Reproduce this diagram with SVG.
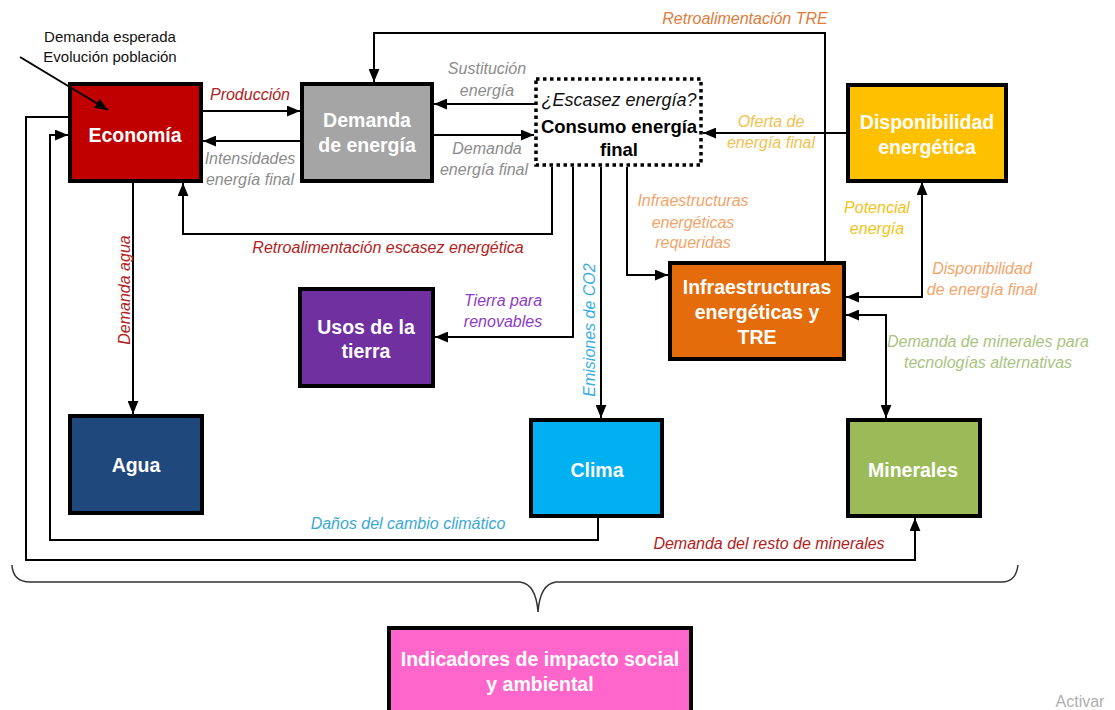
<svg xmlns="http://www.w3.org/2000/svg" width="1115" height="710" viewBox="0 0 1115 710">
<style>
.box{stroke:#000;stroke-width:4}
.bt{font-family:"Liberation Sans",Arial,sans-serif;font-weight:bold;font-size:19.5px;fill:#fff;text-anchor:middle}
.lb{font-family:"Liberation Sans",Arial,sans-serif;font-style:italic;font-size:16px;text-anchor:middle}
.c{fill:none;stroke:#000;stroke-width:2}
</style>
<defs>
<marker id="arr" viewBox="0 0 12 10" refX="12" refY="5" markerWidth="13" markerHeight="11" orient="auto-start-reverse" markerUnits="userSpaceOnUse">
<path d="M0,0 L12,5 L0,10 Z" fill="#000"/>
</marker>
</defs>
<rect width="1115" height="710" fill="#fff"/>

<g id="economia"><rect class="box" x="70" y="84" width="131" height="97" fill="#C00000"/><text class="bt" x="135" y="142">Economía</text></g>
<g id="demanda-energia"><rect class="box" x="302" y="84" width="130" height="97" fill="#A5A5A5"/><text class="bt" x="367" y="127">Demanda</text><text class="bt" x="367" y="152">de energía</text></g>
<g id="consumo"><rect x="536" y="79" width="165" height="86" fill="#fff" stroke="#000" stroke-width="3.5" stroke-dasharray="3.5,3.5"/>
<text x="619" y="106" style="font-family:'Liberation Sans',Arial,sans-serif;font-style:italic;font-size:18px" text-anchor="middle" fill="#111">¿Escasez energía?</text>
<text x="619" y="133" style="font-family:'Liberation Sans',Arial,sans-serif;font-weight:bold;font-size:18.5px" text-anchor="middle" fill="#000">Consumo energía</text>
<text x="619" y="156" style="font-family:'Liberation Sans',Arial,sans-serif;font-weight:bold;font-size:18.5px" text-anchor="middle" fill="#000">final</text></g>
<g id="disponibilidad"><rect class="box" x="848" y="85" width="158" height="96" fill="#FFC000"/><text class="bt" x="927" y="129">Disponibilidad</text><text class="bt" x="927" y="154">energética</text></g>
<g id="infraestructuras"><rect class="box" x="670" y="263" width="174" height="96" fill="#E46C0A"/><text class="bt" x="757" y="294">Infraestructuras</text><text class="bt" x="757" y="319">energéticas y</text><text class="bt" x="757" y="344">TRE</text></g>
<g id="usos-tierra"><rect class="box" x="300" y="289" width="133" height="97" fill="#7030A0"/><text class="bt" x="366" y="334">Usos de la</text><text class="bt" x="366" y="358">tierra</text></g>
<g id="agua"><rect class="box" x="70" y="416" width="132" height="97" fill="#1F497D"/><text class="bt" x="136" y="472">Agua</text></g>
<g id="clima"><rect class="box" x="531" y="420" width="131" height="96" fill="#00B0F0"/><text class="bt" x="597" y="477">Clima</text></g>
<g id="minerales"><rect class="box" x="848" y="420" width="132" height="96" fill="#9BBB59"/><text class="bt" x="913" y="477">Minerales</text></g>
<g id="indicadores"><rect class="box" x="389" y="628" width="302" height="90" fill="#FF66CC"/><text class="bt" x="540" y="666">Indicadores de impacto social</text><text class="bt" x="540" y="691">y ambiental</text></g>

<g id="connectors">
<path class="c" d="M20,57 L108,110" marker-end="url(#arr)"/>
<path class="c" d="M203,111 H300" marker-end="url(#arr)"/>
<path class="c" d="M300,141 H203" marker-end="url(#arr)"/>
<path class="c" d="M535,104 H434" marker-end="url(#arr)"/>
<path class="c" d="M434,135 H534" marker-end="url(#arr)"/>
<path class="c" d="M825,262 V33 H374 V82" marker-end="url(#arr)"/>
<path class="c" d="M847,133 H703" marker-end="url(#arr)"/>
<path class="c" d="M552,167 V234 H183 V183" marker-end="url(#arr)"/>
<path class="c" d="M573,167 V337 H435" marker-end="url(#arr)"/>
<path class="c" d="M601,167 V418" marker-end="url(#arr)"/>
<path class="c" d="M627,167 V275 H668" marker-end="url(#arr)"/>
<path class="c" d="M846,297 H922 V182" marker-start="url(#arr)" marker-end="url(#arr)"/>
<path class="c" d="M846,315 H886 V418" marker-start="url(#arr)" marker-end="url(#arr)"/>
<path class="c" d="M133,183 V414" marker-end="url(#arr)"/>
<path class="c" d="M598,518 V540 H50 V135 H68" marker-end="url(#arr)"/>
<path class="c" d="M69,117 H26 V560 H915 V518" marker-end="url(#arr)"/>
<path d="M12,565 Q13,582 30,582 H520 Q536,584 538,612 Q540,584 556,582 H1002 Q1016,582 1018,565" fill="none" stroke="#333" stroke-width="1.5"/>
</g>

<g id="labels">
<text x="110" y="42" class="lb" style="font-style:normal;font-size:15px" fill="#111">Demanda esperada</text>
<text x="110" y="62" class="lb" style="font-style:normal;font-size:15px" fill="#111">Evolución población</text>
<text x="250" y="100" class="lb" fill="#B22222">Producción</text>
<text x="250" y="164" class="lb" fill="#8C8C8C">Intensidades</text>
<text x="250" y="185" class="lb" fill="#8C8C8C">energía final</text>
<text x="487" y="74" class="lb" fill="#8C8C8C">Sustitución</text>
<text x="487" y="96" class="lb" fill="#8C8C8C">energía</text>
<text x="487" y="154" class="lb" fill="#8C8C8C">Demanda</text>
<text x="484" y="175" class="lb" fill="#8C8C8C">energía final</text>
<text x="745" y="24" class="lb" fill="#E07B39">Retroalimentación TRE</text>
<text x="771" y="127" class="lb" fill="#F2C14E">Oferta de</text>
<text x="771" y="148" class="lb" fill="#F2C14E">energía final</text>
<text x="388" y="253" class="lb" fill="#B22222">Retroalimentación escasez energética</text>
<text x="503" y="306" class="lb" fill="#8E3BC7">Tierra para</text>
<text x="503" y="327" class="lb" fill="#8E3BC7">renovables</text>
<text x="0" y="0" class="lb" fill="#3AAEE0" transform="translate(595,330) rotate(-90)">Emisiones de CO2</text>
<text x="693" y="206" class="lb" fill="#F4A46A">Infraestructuras</text>
<text x="693" y="228" class="lb" fill="#F4A46A">energéticas</text>
<text x="693" y="248" class="lb" fill="#F4A46A">requeridas</text>
<text x="877" y="213" class="lb" fill="#F0C419">Potencial</text>
<text x="877" y="234" class="lb" fill="#F0C419">energía</text>
<text x="982" y="274" class="lb" fill="#F4A46A">Disponibilidad</text>
<text x="982" y="295" class="lb" fill="#F4A46A">de energía final</text>
<text x="988" y="347" class="lb" fill="#A9C47F">Demanda de minerales para</text>
<text x="988" y="368" class="lb" fill="#A9C47F">tecnologías alternativas</text>
<text x="0" y="0" class="lb" fill="#B22222" transform="translate(130,290) rotate(-90)">Demanda agua</text>
<text x="408" y="529" class="lb" fill="#3AA8D8">Daños del cambio climático</text>
<text x="769" y="549" class="lb" fill="#B22222">Demanda del resto de minerales</text>
<text x="1080" y="707" style="font-family:'Liberation Sans',Arial,sans-serif;font-size:16px" fill="#B0B0B0" text-anchor="middle">Activar</text>
</g>
</svg>
